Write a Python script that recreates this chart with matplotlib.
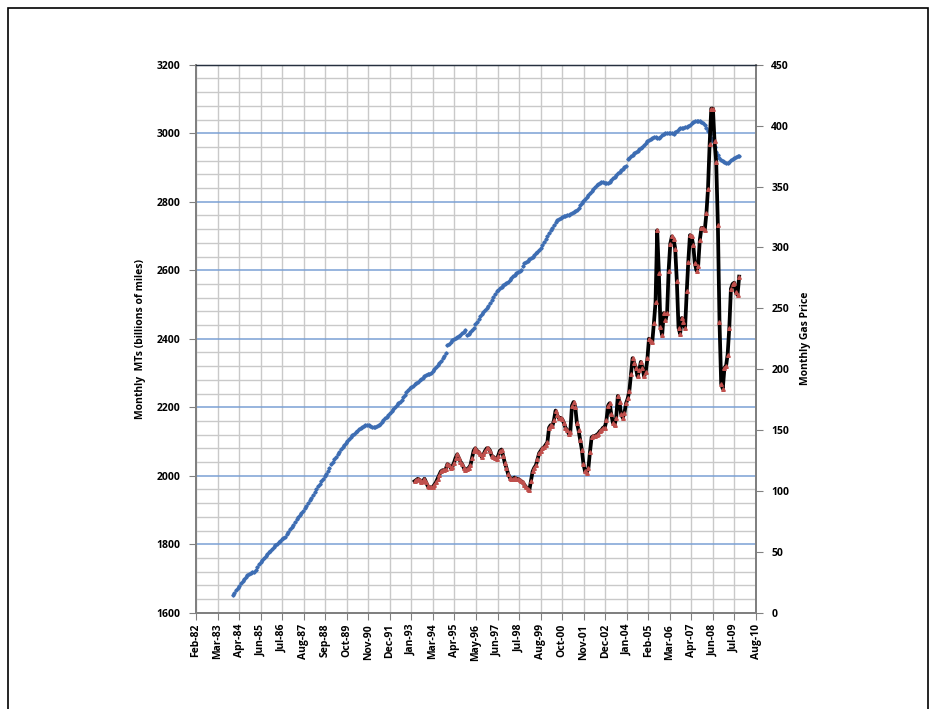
import numpy as np
import pandas as pd
import matplotlib
matplotlib.use("Agg")
import matplotlib.pyplot as plt
from matplotlib.ticker import MultipleLocator
from matplotlib.patches import Rectangle
from datetime import datetime, timedelta

# monthly VMT, billions of miles (12 month total), Jan-84 .. Oct-09
vmt_1984 = [1652, 1659, 1665, 1672, 1679, 1686, 1692, 1698, 1705, 1709, 1713, 1716]
vmt_1985 = [1718, 1720, 1726, 1734, 1742, 1749, 1755, 1760, 1766, 1771, 1776, 1781]
vmt_1986 = [1787, 1792, 1798, 1802, 1806, 1810, 1814, 1817, 1822, 1829, 1836, 1843]
vmt_1987 = [1849, 1857, 1864, 1873, 1879, 1885, 1891, 1898, 1905, 1912, 1920, 1928]
vmt_1988 = [1936, 1944, 1953, 1961, 1969, 1977, 1984, 1991, 1998, 2006, 2015, 2024]
vmt_1989 = [2033, 2041, 2049, 2056, 2063, 2070, 2077, 2084, 2090, 2096, 2102, 2108]
vmt_1990 = [2113, 2118, 2123, 2127, 2132, 2136, 2139, 2142, 2145, 2147, 2148, 2148]
vmt_1991 = [2145, 2142, 2141, 2142, 2145, 2148, 2152, 2157, 2163, 2168, 2172, 2177]
vmt_1992 = [2183, 2189, 2195, 2201, 2206, 2211, 2216, 2222, 2229, 2236, 2243, 2250]
vmt_1993 = [2255, 2259, 2263, 2267, 2271, 2275, 2279, 2282, 2286, 2290, 2294, 2296]
vmt_1994 = [2297, 2301, 2306, 2312, 2318, 2324, 2330, 2336, 2343, 2350, 2357, 2382]
vmt_1995 = [2386, 2391, 2396, 2399, 2402, 2405, 2408, 2411, 2416, 2421, 2425, 2411]
vmt_1996 = [2415, 2420, 2425, 2432, 2442, 2450, 2458, 2465, 2471, 2477, 2483, 2489]
vmt_1997 = [2497, 2505, 2513, 2521, 2531, 2538, 2543, 2548, 2552, 2556, 2559, 2562]
vmt_1998 = [2567, 2572, 2577, 2582, 2587, 2591, 2595, 2598, 2601, 2612, 2621, 2625]
vmt_1999 = [2628, 2632, 2636, 2639, 2644, 2649, 2654, 2659, 2665, 2673, 2682, 2691]
vmt_2000 = [2700, 2708, 2716, 2724, 2732, 2740, 2746, 2751, 2753, 2755, 2757, 2759]
vmt_2001 = [2760, 2762, 2765, 2768, 2771, 2774, 2777, 2783, 2789, 2795, 2801, 2807]
vmt_2002 = [2813, 2819, 2825, 2831, 2837, 2843, 2849, 2853, 2856, 2858, 2857, 2856]
vmt_2003 = [2855, 2855, 2858, 2863, 2868, 2873, 2878, 2883, 2888, 2893, 2897, 2900]
vmt_2004 = [2903, 2926, 2929, 2933, 2937, 2941, 2945, 2949, 2953, 2957, 2961, 2966]
vmt_2005 = [2971, 2976, 2980, 2984, 2987, 2990, 2988, 2986, 2985, 2990, 2995, 2999]
vmt_2006 = [3001, 3002, 3002, 3001, 3000, 2999, 3003, 3007, 3011, 3014, 3015, 3016]
vmt_2007 = [3017, 3019, 3021, 3025, 3029, 3033, 3036, 3037, 3037, 3037, 3034, 3029]
vmt_2008 = [3023, 3015, 3006, 2997, 2987, 2976, 2961, 2946, 2935, 2927, 2922, 2919]
vmt_2009 = [2917, 2914, 2912, 2916, 2921, 2925, 2928, 2932, 2933, 2934]

# monthly gas price (cents), Apr-93 .. Oct-09
gas_1993 = [108, 109, 110, 109, 107, 108, 110, 107, 104]
gas_1994 = [103, 103, 103, 105, 107, 110, 113, 116, 117, 117, 118, 122]
gas_1995 = [121, 119, 120, 123, 127, 130, 127, 124, 122, 119, 117, 118]
gas_1996 = [119, 121, 127, 133, 135, 133, 132, 130, 128, 130, 133, 135]
gas_1997 = [135, 133, 129, 128, 127, 126, 129, 133, 134, 129, 123, 119]
gas_1998 = [114, 111, 110, 110, 111, 110, 110, 109, 108, 107, 105, 103]
gas_1999 = [102, 101, 108, 116, 119, 121, 126, 131, 133, 135, 136, 138]
gas_2000 = [140, 152, 154, 153, 158, 166, 162, 160, 160, 159, 156, 152]
gas_2001 = [150, 147, 148, 170, 173, 169, 156, 150, 142, 134, 122, 116]
gas_2002 = [115, 119, 132, 144, 145, 145, 146, 147, 149, 150, 152, 152]
gas_2003 = [158, 170, 172, 163, 156, 154, 160, 178, 173, 163, 160, 164]
gas_2004 = [172, 176, 182, 196, 209, 205, 201, 194, 199, 206, 201, 194]
gas_2005 = [198, 209, 225, 223, 222, 238, 255, 314, 279, 235, 228, 246]
gas_2006 = [240, 246, 281, 303, 309, 307, 299, 272, 234, 229, 242, 239]
gas_2007 = [234, 264, 288, 310, 309, 302, 287, 281, 285, 306, 316, 316]
gas_2008 = [314, 328, 348, 385, 414, 414, 387, 370, 318, 239, 188, 184]
gas_2009 = [201, 203, 212, 234, 266, 270, 271, 263, 261, 276]

vmt = (vmt_1984 + vmt_1985 + vmt_1986 + vmt_1987 + vmt_1988 + vmt_1989 + vmt_1990
       + vmt_1991 + vmt_1992 + vmt_1993 + vmt_1994 + vmt_1995 + vmt_1996 + vmt_1997
       + vmt_1998 + vmt_1999 + vmt_2000 + vmt_2001 + vmt_2002 + vmt_2003 + vmt_2004
       + vmt_2005 + vmt_2006 + vmt_2007 + vmt_2008 + vmt_2009)
gas = (gas_1993 + gas_1994 + gas_1995 + gas_1996 + gas_1997 + gas_1998 + gas_1999
       + gas_2000 + gas_2001 + gas_2002 + gas_2003 + gas_2004 + gas_2005 + gas_2006
       + gas_2007 + gas_2008 + gas_2009)

vmt_dates = pd.date_range("1984-01-01", periods=len(vmt), freq="MS")
gas_dates = pd.date_range("1993-04-01", periods=len(gas), freq="MS")

# excel style date axis: 400 day steps from Feb-82
x_start = datetime(1982, 2, 18)
x_ticks = [x_start + timedelta(days=400 * i) for i in range(27)]

plt.rcParams['font.family'] = ['Open Sans', 'DejaVu Sans']
plt.rcParams['font.weight'] = 'bold'

fig = plt.figure(figsize=(9.36, 7.09), dpi=100)
ax = fig.add_axes([0.2094, 0.1358, 0.5983, 0.7729])

# grid
ax.set_ylim(1600, 3200)
ax.set_xlim(x_ticks[0], x_ticks[-1])
ax.yaxis.set_major_locator(MultipleLocator(200))
ax.yaxis.set_minor_locator(MultipleLocator(40))
ax.set_xticks(x_ticks)
ax.set_xticklabels([d.strftime('%b-%y') for d in x_ticks], rotation=90, fontsize=7.5, fontweight='bold')
ax.grid(which='minor', axis='y', color='#c9c9c9', linewidth=1.0, zorder=0)
ax.grid(which='major', axis='y', color='#7aa0d4', linewidth=1.1, zorder=1)
ax.grid(which='major', axis='x', color='#c9c9c9', linewidth=1.0, zorder=0)
ax.set_axisbelow(True)
ax.tick_params(axis='y', which='minor', length=0)
ax.tick_params(axis='y', which='major', length=5, color='#808080', labelsize=7.5, pad=6)
ax.tick_params(axis='x', length=5, color='#808080', pad=3)
for lab in ax.get_yticklabels():
    lab.set_fontweight('bold')

ax.plot(vmt_dates, vmt, linestyle='none', marker='D', markersize=1.7,
        color='#3d6db3', zorder=3)
ax.set_ylabel('Monthly  MTs (billions of miles)', fontsize=7.5, fontweight='bold', labelpad=8)

for s in ['left', 'right', 'bottom']:
    ax.spines[s].set_color('#808080')
    ax.spines[s].set_linewidth(1.3)
ax.spines['top'].set_color('#26303f')
ax.spines['top'].set_linewidth(1.0)

ax2 = ax.twinx()
ax2.set_ylim(0, 450)
ax2.yaxis.set_major_locator(MultipleLocator(50))
ax2.plot(gas_dates, gas, color='black', linewidth=2.7, marker='^', markersize=2.6,
         markerfacecolor='#c0504d', markeredgecolor='#c0504d', zorder=4)
ax2.tick_params(axis='y', length=5, color='#808080', labelsize=7.5, pad=6)
for lab in ax2.get_yticklabels():
    lab.set_fontweight('bold')
ax2.set_ylabel('Monthly Gas Price', fontsize=7.5, fontweight='bold', labelpad=8)
for s in ['left', 'right', 'bottom']:
    ax2.spines[s].set_color('#808080')
    ax2.spines[s].set_linewidth(1.3)
ax2.spines['top'].set_color('#26303f')

# chart area border
fig.patches.append(Rectangle((8 / 936, -0.05), 920 / 936, 1.05 - 8 / 709, transform=fig.transFigure,
                             fill=False, edgecolor='black', linewidth=1.2))

fig.savefig('out.png', dpi=100)
